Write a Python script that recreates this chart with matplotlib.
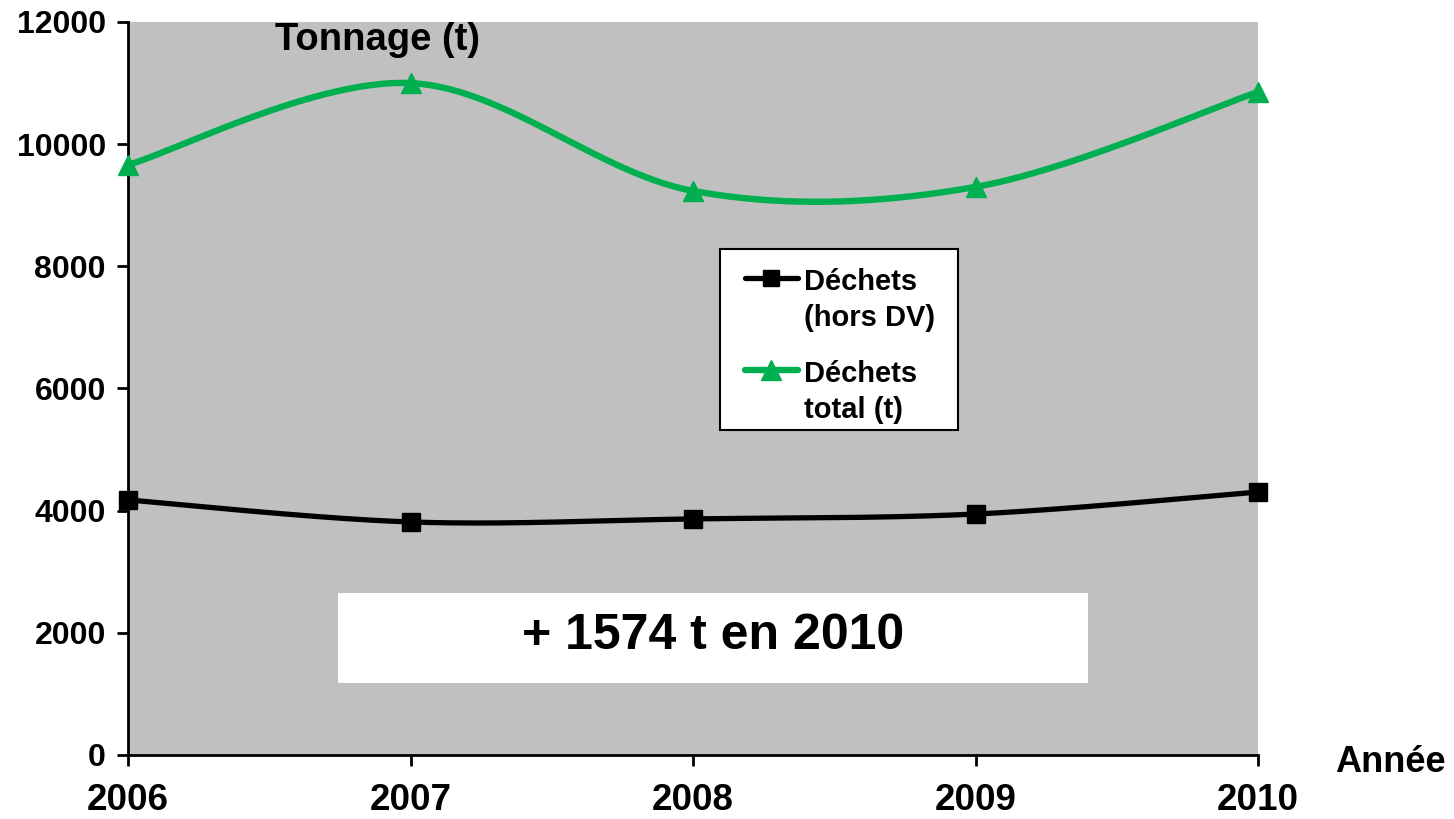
import numpy as np
import matplotlib.pyplot as plt
from matplotlib.patches import Rectangle
from matplotlib.lines import Line2D

plt.rcParams['font.family'] = ['Liberation Sans', 'DejaVu Sans']

# data
years = [2006, 2007, 2008, 2009, 2010]
dechets_hors_dv = [4175, 3815, 3865, 3945, 4305]
dechets_total = [9660, 11000, 9235, 9300, 10855]
yticks = [0, 2000, 4000, 6000, 8000, 10000, 12000]
labels = ['Déchets\n(hors DV)', 'Déchets\ntotal (t)']


def smooth(x, y, n=60):
    # catmull-rom style smoothing like the excel "smoothed line" option
    x = np.asarray(x, float)
    y = np.asarray(y, float)
    px = np.concatenate([[x[0]], x, [x[-1]]])
    py = np.concatenate([[y[0]], y, [y[-1]]])
    xs, ys = [], []
    t = np.linspace(0, 1, n)
    for i in range(1, len(px) - 2):
        for p, out in ((px, xs), (py, ys)):
            p0, p1, p2, p3 = p[i - 1], p[i], p[i + 1], p[i + 2]
            out.extend(0.5 * (2 * p1 + (-p0 + p2) * t
                              + (2 * p0 - 5 * p1 + 4 * p2 - p3) * t ** 2
                              + (-p0 + 3 * p1 - 3 * p2 + p3) * t ** 3))
    return np.array(xs), np.array(ys)


W, H = 1454, 819
L, R, T, B = 128, 1258, 22, 755


def axc(x, y):
    # pixel position in the picture -> axes fraction
    return (x - L) / (R - L), (B - y) / (B - T)


fig = plt.figure(figsize=(W / 100, H / 100), dpi=100)
ax = fig.add_axes([L / W, (H - B) / H, (R - L) / W, (B - T) / H])
ax.set_facecolor('#c0c0c0')

green = '#00b050'
styles = [dict(color='black', lw=3.8, marker='s', ms=13),
          dict(color=green, lw=4.6, marker='^', ms=15)]

for vals, st in zip([dechets_hors_dv, dechets_total], styles):
    sx, sy = smooth(years, vals)
    ax.plot(sx, sy, color=st['color'], lw=st['lw'], solid_capstyle='round',
            zorder=3)
    ax.plot(years, vals, ls='none', marker=st['marker'], ms=st['ms'],
            color=st['color'], clip_on=False, zorder=4)

# legend drawn by hand so the handles sit on the first text line
x0, y0 = axc(720, 430)
x1, y1 = axc(958, 249)
ax.add_patch(Rectangle((x0, y0), x1 - x0, y1 - y0, transform=ax.transAxes,
                       facecolor='white', edgecolor='black', lw=1.5,
                       zorder=5))
for lab, st, yy in zip(labels, styles, [278, 370]):
    xa, ya = axc(745, yy)
    xb, _ = axc(798, yy)
    xm, _ = axc(771, yy)
    ax.add_line(Line2D([xa, xb], [ya, ya], transform=ax.transAxes,
                       color=st['color'], lw=st['lw'], solid_capstyle='round',
                       zorder=6))
    ax.add_line(Line2D([xm], [ya], transform=ax.transAxes, ls='none',
                       marker=st['marker'], ms=st['ms'] - 1,
                       color=st['color'], zorder=7))
    xt, yt = axc(804, yy - 10)
    ax.text(xt, yt, lab, transform=ax.transAxes, fontsize=21,
            fontweight='bold', ha='left', va='top', linespacing=1.35,
            zorder=7)

ax.set_xlim(2006, 2010)
ax.set_ylim(0, 12000)
ax.set_xticks(years)
ax.set_yticks(yticks)
ax.set_xticklabels([str(y) for y in years], fontsize=26.5, fontweight='bold')
ax.set_yticklabels([str(v) for v in yticks], fontsize=23, fontweight='bold')
ax.tick_params(axis='x', length=8, width=2, pad=12)
ax.tick_params(axis='y', length=8, width=2, pad=8)
for s in ['top', 'right']:
    ax.spines[s].set_visible(False)
for s in ['left', 'bottom']:
    ax.spines[s].set_linewidth(2)

xt, yt = axc(275, 40)
ax.text(xt, yt, 'Tonnage (t)', transform=ax.transAxes, fontsize=27.5,
        fontweight='bold', ha='left', va='center')
fig.text(1390 / W, (H - 763) / H, 'Année', fontsize=26,
         fontweight='bold', ha='center', va='center')

# white annotation box
x0, y0 = axc(338, 683)
x1, y1 = axc(1088, 593)
ax.add_patch(Rectangle((x0, y0), x1 - x0, y1 - y0, transform=ax.transAxes,
                       facecolor='white', edgecolor='none', zorder=2))
xt, yt = axc(713, 636)
ax.text(xt, yt, '+ 1574 t en 2010', transform=ax.transAxes, fontsize=36,
        fontweight='bold', ha='center', va='center', zorder=5)

fig.savefig('out.png', dpi=100)
